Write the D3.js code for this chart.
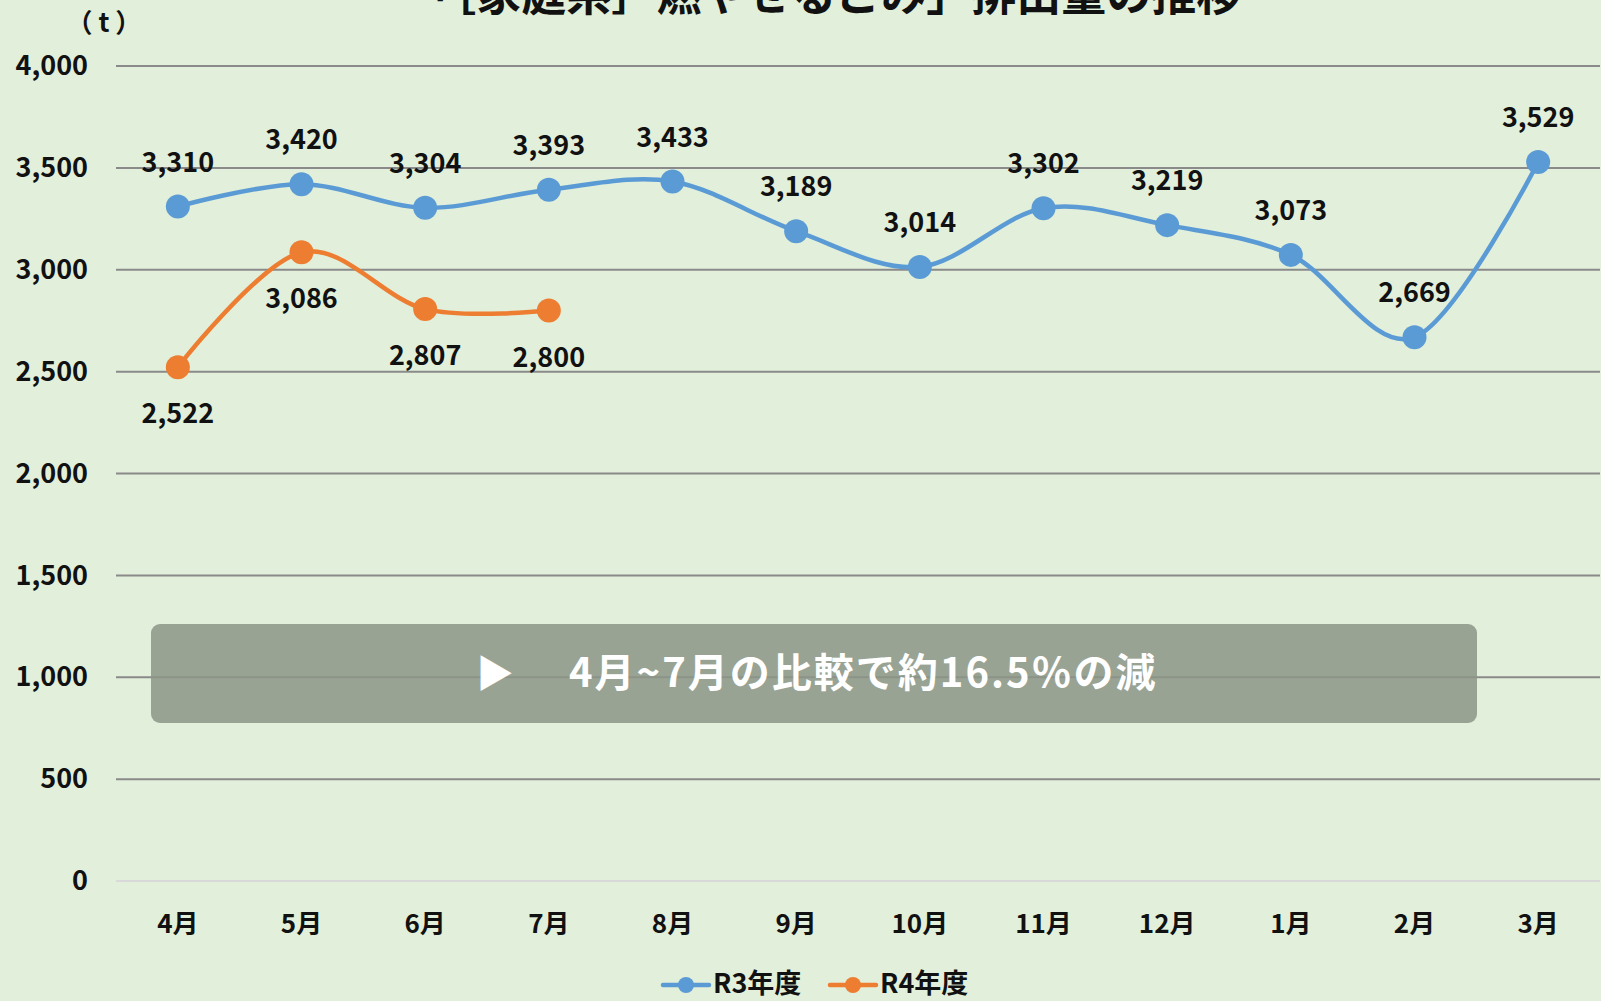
<!DOCTYPE html>
<html>
<head>
<meta charset="utf-8">
<script src="https://cdn.jsdelivr.net/npm/d3@7"></script>
<style>
  body { margin: 0; background: #e2efda; }
  text { font-family: "Noto Sans CJK JP", "Noto Sans", sans-serif; }
</style>
</head>
<body>
<div id="chart-area"></div>
<script>
// data
var months = ["4月", "5月", "6月", "7月", "8月", "9月", "10月", "11月", "12月", "1月", "2月", "3月"];
var r3 = [3310, 3420, 3304, 3393, 3433, 3189, 3014, 3302, 3219, 3073, 2669, 3529];
var r4 = [2522, 3086, 2807, 2800];
var yTicks = [0, 500, 1000, 1500, 2000, 2500, 3000, 3500, 4000];
var seriesNames = ["R3年度", "R4年度"];
var colors = ["#5b9bd5", "#ed7d31"];

var width = 1601;
var height = 1001;
var margin = {top: 66, right: 1, bottom: 120, left: 116};

var svg = d3.select("#chart-area").append("svg")
  .attr("width", width)
  .attr("height", height)

svg.append("rect")
  .attr("width", width)
  .attr("height", height)
  .attr("fill", "#e2efda")

// title (cut at top as in source)
svg.append("text")
  .attr("x", 825)
  .attr("y", 11)
  .attr("text-anchor", "middle")
  .attr("font-size", "45px")
  .attr("font-weight", "bold")
  .attr("fill", "#111")
  .text("「［家庭系］燃やせるごみ」排出量の推移")

var x = d3.scaleBand()
  .domain(months)
  .range([margin.left, width - margin.right])

var y = d3.scaleLinear()
  .domain([0, 4000])
  .range([height - margin.bottom, margin.top])

var cx = d => x(d) + x.bandwidth() / 2

// gridlines
svg.append("g")
  .selectAll("line")
  .data(yTicks)
  .enter().append("line")
  .attr("x1", margin.left)
  .attr("x2", width - margin.right)
  .attr("y1", d => y(d))
  .attr("y2", d => y(d))
  .attr("stroke", d => d == 0 ? "#d9d9d9" : "#8a8a8a")
  .attr("stroke-width", 2)

// y axis labels
var yAxis = d3.axisLeft(y).tickValues(yTicks).tickFormat(d3.format(",")).tickSize(0).tickPadding(28)
var yAxisGroup = svg.append("g")
  .attr("transform", "translate(" + margin.left + ",0)")
  .call(yAxis)
yAxisGroup.select(".domain").remove()
yAxisGroup.selectAll("text")
  .attr("font-size", "27px")
  .attr("font-weight", "bold")
  .attr("fill", "#111")
  .style("font-family", "'Noto Sans CJK JP', sans-serif")

svg.append("text")
  .attr("x", 104)
  .attr("y", 32)
  .attr("text-anchor", "middle")
  .attr("font-size", "26px")
  .attr("font-weight", "bold")
  .attr("fill", "#111")
  .text("（ t ）")

// x axis labels
var xAxis = d3.axisBottom(x).tickSize(0).tickPadding(34)
var xAxisGroup = svg.append("g")
  .attr("transform", "translate(0," + y(0) + ")")
  .call(xAxis)
xAxisGroup.select(".domain").remove()
xAxisGroup.selectAll("text")
  .attr("font-size", "26px")
  .attr("font-weight", "bold")
  .attr("fill", "#111")
  .style("font-family", "'Noto Sans CJK JP', sans-serif")

// banner
svg.append("rect")
  .attr("x", 151)
  .attr("y", 624)
  .attr("width", 1326)
  .attr("height", 99)
  .attr("rx", 9)
  .attr("fill", "#8c9587")
  .attr("opacity", 0.85)

svg.append("text")
  .attr("x", 476)
  .attr("y", 687)
  .attr("font-size", "38px")
  .attr("fill", "#fff")
  .text("▶")

svg.append("text")
  .attr("x", 569)
  .attr("y", 687)
  .attr("font-size", "40px")
  .attr("font-weight", "bold")
  .attr("letter-spacing", "2px")
  .attr("fill", "#fff")
  .text("4月~7月の比較で約16.5％の減")

// lines
var line = d3.line()
  .x((d, i) => cx(months[i]))
  .y(d => y(d))
  .curve(d3.curveCatmullRom.alpha(0))

var allSeries = [r3, r4]

allSeries.forEach((data, s) => {
  var g = svg.append("g")
  g.append("path")
    .attr("d", line(data))
    .attr("fill", "none")
    .attr("stroke", colors[s])
    .attr("stroke-width", 4.5)
    .attr("stroke-linecap", "round")

  g.selectAll("circle")
    .data(data)
    .enter().append("circle")
    .attr("cx", (d, i) => cx(months[i]))
    .attr("cy", d => y(d))
    .attr("r", 12)
    .attr("fill", colors[s])

  g.selectAll("text")
    .data(data)
    .enter().append("text")
    .attr("x", (d, i) => cx(months[i]))
    .attr("y", d => s == 0 ? y(d) - 35 : y(d) + 56)
    .attr("text-anchor", "middle")
    .attr("font-size", "27px")
    .attr("font-weight", "bold")
    .attr("fill", "#111")
    .text(d => d3.format(",")(d))
})

// legend
var legend = svg.append("g")
var legendX = [663, 830]
seriesNames.forEach((name, s) => {
  var lx = legendX[s]
  legend.append("line")
    .attr("x1", lx)
    .attr("x2", lx + 46)
    .attr("y1", 985)
    .attr("y2", 985)
    .attr("stroke", colors[s])
    .attr("stroke-width", 4.5)
    .attr("stroke-linecap", "round")
  legend.append("circle")
    .attr("cx", lx + 23)
    .attr("cy", 985)
    .attr("r", 8)
    .attr("fill", colors[s])
  legend.append("text")
    .attr("x", lx + 50)
    .attr("y", 993)
    .attr("font-size", "27px")
    .attr("font-weight", "bold")
    .attr("fill", "#111")
    .text(name)
})
</script>
</body>
</html>
